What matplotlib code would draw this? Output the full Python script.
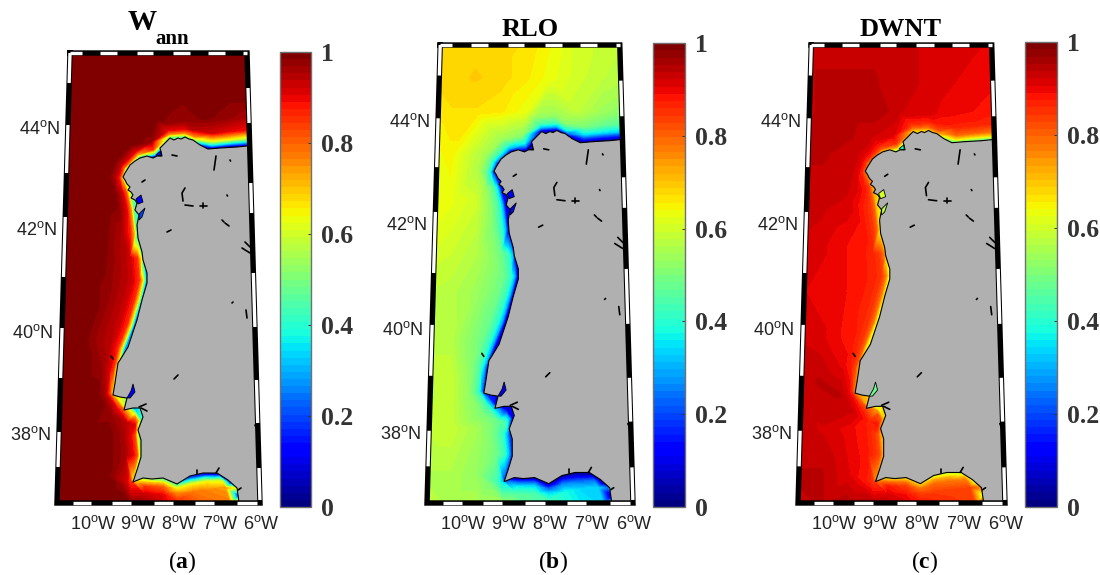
import numpy as np
import matplotlib
matplotlib.use('Agg')
import matplotlib.pyplot as plt
import matplotlib.tri as mtri
from matplotlib.cm import ScalarMappable
from matplotlib.colors import ListedColormap, Normalize
from matplotlib.patches import Polygon

plt.rcParams['font.family'] = 'Liberation Sans'
plt.rcParams['mathtext.fontset'] = 'custom'
plt.rcParams['mathtext.default'] = 'regular'
plt.rcParams['mathtext.bf'] = 'Liberation Serif:bold'

W, H = 1100, 575

# everything on the map is in "map units" (pixels of the first panel)
coast_x = [262, 247, 237, 220, 208, 200, 193, 189, 185, 181, 178, 174, 170, 163, 160, 162, 157, 153, 147, 140, 135, 130, 125, 123, 125, 127,
           130, 128, 131, 133, 131, 135, 137, 135, 139, 137, 138, 142, 143, 147, 147, 142, 137, 128, 120, 118, 115, 113, 120,
           127, 124, 133, 140, 143, 138, 141, 141, 137, 133, 143, 152, 163, 177, 190, 203, 217, 228, 237, 239, 239]
coast_y = [146, 146, 147, 148, 149, 145, 140, 139, 137, 139, 138, 140, 138, 145, 148, 156, 156, 158, 156, 158, 161, 165, 173, 177, 180, 184,
           187, 190, 192, 195, 198, 200, 203, 210, 215, 225, 238, 252, 260, 273, 283, 300, 320, 347, 360, 363, 383, 395, 397,
           398, 410, 408, 408, 417, 430, 440, 457, 470, 482, 478, 479, 478, 484, 476, 473, 473, 480, 488, 502, 506]

# little lakes and rivers that show as black strokes on the land
lakes = [[(216, 156), (214, 170)], [(172, 155), (177, 156)], [(142, 182), (145, 180)],
         [(185, 188), (182, 193), (183, 201)], [(185, 205), (193, 206)], [(200, 206), (207, 206)],
         [(203, 203), (203, 208)], [(230, 160), (230.5, 161)], [(227, 195), (227.5, 196)],
         [(222, 220), (224, 222)], [(225, 223), (229, 226)], [(167, 232), (171, 230)],
         [(245, 242), (250, 247)], [(242, 248), (250, 253)], [(232, 303), (233, 302)],
         [(246, 310), (247, 318)], [(174, 379), (178, 375)], [(111, 356), (113, 359)],
         [(255, 425), (257, 430)], [(197, 474), (197, 470)], [(216, 473), (219, 468)],
         [(238, 490), (241, 488)], [(139, 407), (146, 404)], [(141, 408), (147, 411)]]

# estuaries, filled with a value of their own per panel
estuary_shapes = [[(133, 384), (135, 392), (130, 398), (127, 398), (131, 391)],
                  [(136, 199), (141, 195), (143, 202), (138, 204)],
                  [(139, 214), (145, 208), (142, 217), (139, 220)],
                  [(156, 155), (161, 151), (161, 156)]]
estuary_vals = [[0.12, 0.12, 0.2, 0.15], [0.1, 0.1, 0.1, 0.1], [0.48, 0.6, 0.55, 0.4]]

# stations along the coast, with the direction towards open sea
st_x = [250, 232, 212, 198, 185, 170, 155, 140, 127, 123, 130, 135, 138, 145, 147, 142, 135,
        125, 117, 113, 124, 135, 142, 139, 141, 134, 145, 163, 177, 190, 205, 218, 230, 238]
st_y = [146, 147, 149, 144, 137, 138, 157, 158, 170, 178, 192, 210, 235, 260, 280, 300, 325,
        350, 370, 393, 405, 409, 420, 435, 455, 480, 479, 479, 485, 477, 474, 474, 482, 495]
st_dx = [0.1, 0, 0, -0.37, 0, -0.29, -0.29, -0.6, -0.8, -1, -0.98, -1, -1, -0.99, -1, -0.98, -0.97,
         -0.95, -0.98, -0.98, -0.76, 0, -0.98, -1, -1, -0.96, 0, 0, 0, 0.2, 0.2, 0.45, 0.66, 0.89]
st_dy = [-1, -1, -1, -0.93, -1, -0.96, -0.96, -0.8, -0.6, -0.1, 0.2, 0.1, -0.1, -0.15, 0, -0.2, -0.25,
         -0.32, -0.2, 0.2, 0.65, 1, 0.2, 0, 0, 0.28, 1, 1, 1, 0.98, 0.98, 0.89, 0.75, 0.45]
offsets = [1, 4, 8, 16]

# value at each station for each offset
wann_band = [[.10, .30, .58, .88], [.10, .35, .63, .90], [.10, .35, .63, .92], [.30, .55, .75, .94],
             [.50, .75, .90, .97], [.50, .75, .90, .98], [.15, .55, .85, .98], [.40, .72, .90, .99],
             [.50, .80, .93, 1.0], [.70, .88, .95, 1.0], [.60, .82, .93, 1.0], [.45, .75, .90, .98],
             [.40, .72, .87, .95], [.30, .65, .85, .93], [.30, .65, .85, .93], [.35, .68, .86, .93],
             [.25, .65, .86, .93], [.30, .68, .87, .94], [.65, .85, .92, .97], [.70, .85, .95, 1.0],
             [.60, .80, .90, .97], [.30, .55, .75, .90], [.40, .70, .86, .94], [.55, .82, .90, .96],
             [.55, .82, .90, .96], [.65, .85, .92, .98], [.60, .72, .85, .93], [.50, .68, .80, .90],
             [.50, .65, .75, .85], [.20, .42, .65, .78], [.15, .40, .64, .76], [.14, .38, .62, .74],
             [.12, .35, .60, .74], [.12, .35, .58, .72]]
rlo_band = [[.05, .16, .32, .46], [.05, .18, .34, .48], [.05, .18, .34, .50], [.08, .22, .38, .52],
            [.12, .30, .44, .54], [.12, .30, .44, .54], [.08, .24, .38, .52], [.12, .30, .42, .54],
            [.15, .33, .45, .55], [.20, .37, .48, .56], [.15, .34, .46, .54], [.12, .32, .44, .52],
            [.12, .32, .42, .50], [.12, .32, .42, .49], [.12, .32, .42, .49], [.12, .32, .42, .49],
            [.10, .30, .40, .48], [.10, .30, .41, .49], [.15, .33, .44, .51], [.20, .36, .46, .53],
            [.15, .32, .43, .50], [.06, .17, .31, .43], [.12, .30, .40, .48], [.20, .33, .42, .49],
            [.20, .33, .42, .49], [.20, .34, .43, .50], [.10, .24, .36, .46], [.10, .24, .35, .45],
            [.08, .22, .33, .43], [.05, .17, .27, .38], [.04, .14, .24, .34], [.04, .14, .24, .34],
            [.03, .13, .23, .33], [.03, .12, .22, .32]]
dwnt_band = [[.48, .66, .78, .86], [.50, .68, .80, .87], [.50, .68, .80, .87], [.58, .72, .82, .88],
             [.70, .80, .86, .91], [.70, .80, .86, .91], [.55, .75, .86, .91], [.70, .82, .88, .92],
             [.75, .85, .90, .93], [.80, .87, .91, .93], [.75, .84, .88, .91], [.68, .80, .85, .88],
             [.65, .80, .85, .88], [.63, .78, .84, .87], [.63, .77, .84, .87], [.65, .78, .84, .87],
             [.63, .78, .84, .87], [.65, .80, .85, .88], [.72, .83, .87, .90], [.78, .87, .91, .94],
             [.72, .83, .88, .92], [.62, .74, .83, .88], [.68, .80, .84, .87], [.72, .82, .85, .88],
             [.72, .82, .85, .88], [.75, .84, .87, .90], [.70, .80, .88, .91], [.70, .78, .84, .89],
             [.70, .78, .83, .87], [.65, .74, .80, .84], [.62, .72, .78, .83], [.62, .72, .78, .83],
             [.60, .70, .76, .82], [.58, .68, .75, .80]]

# open sea, coarse grid; nan is land
grid_x = [55, 80, 105, 130, 155, 180, 205, 230, 262]
grid_y = [50, 85, 118, 160, 205, 250, 295, 340, 385, 430, 475, 505]
L = np.nan
wann_grid = [[1, 1, 1, 1, 1, 1, 1, 1, 1],
             [1, 1, 1, 1, 1, 1, 1, 1, 1],
             [1, 1, 1, 1, 1, 1, .99, .97, .93],
             [1, 1, 1, 1, L, L, L, L, L],
             [1, 1, 1, L, L, L, L, L, L],
             [1, 1, .99, .97, L, L, L, L, L],
             [1, 1, .98, L, L, L, L, L, L],
             [1, 1, .97, L, L, L, L, L, L],
             [1, 1, 1, L, L, L, L, L, L],
             [1, 1, 1, L, L, L, L, L, L],
             [1, 1, 1, L, L, L, L, L, L],
             [1, 1, 1, .99, .95, .90, .80, .78, L]]
rlo_grid = [[.66, .68, .68, .68, .67, .64, .60, .59, .58],
            [.67, .68, .69, .68, .66, .63, .60, .58, .56],
            [.67, .67, .67, .66, .63, .61, .58, .54, .50],
            [.62, .65, .65, .62, L, L, L, L, L],
            [.62, .63, .60, .55, L, L, L, L, L],
            [.62, .60, .57, .50, L, L, L, L, L],
            [.58, .57, .54, L, L, L, L, L, L],
            [.57, .57, .53, L, L, L, L, L, L],
            [.57, .59, .56, L, L, L, L, L, L],
            [.58, .59, .55, L, L, L, L, L, L],
            [.56, .56, .53, L, L, L, L, L, L],
            [.57, .56, .56, .55, .46, .40, .37, .34, L]]
dwnt_grid = [[.93, .93, .93, .93, .92, .92, .91, .91, .90],
             [.93, .94, .94, .94, .93, .92, .91, .90, .89],
             [.93, .94, .95, .95, .93, .91, .90, .89, .88],
             [.94, .94, .94, .93, L, L, L, L, L],
             [.93, .93, .92, .90, L, L, L, L, L],
             [.92, .91, .89, .88, L, L, L, L, L],
             [.91, .90, .89, L, L, L, L, L, L],
             [.92, .91, .90, L, L, L, L, L, L],
             [.93, .94, .93, L, L, L, L, L, L],
             [.93, .92, .90, L, L, L, L, L, L],
             [.94, .94, .91, L, L, L, L, L, L],
             [.93, .94, .95, .95, .93, .88, .86, .84, L]]

band_tables = [wann_band, rlo_band, dwnt_band]
grid_tables = [wann_grid, rlo_grid, dwnt_grid]

# panel rectangles in pixels: left, right, top, bottom
map_boxes = [(55, 262, 52, 503), (425, 635, 44, 503), (796, 1007, 44, 503)]
cbar_boxes = [(280, 311, 52, 507), (653, 685, 43, 507), (1025, 1057, 42, 507)]
panel_tags = ['a', 'b', 'c']
tag_x = [182, 553, 925]

lat_labels = ['44', '42', '40', '38']
lat_y = [129, 230, 333, 435]
lat_right = [60, 57, 53, 51]
lon_labels = ['10', '9', '8', '7', '6']
lon_x = [93, 138, 179, 220, 261]
cb_ticks = [0, 0.2, 0.4, 0.6, 0.8, 1]
cb_labels = ['0', '0.2', '0.4', '0.6', '0.8', '1']

# frame corners and the white dashes on each side
TL, TR, BR, BL = (70, 53), (247, 53), (260, 503), (57, 503)
dash_top = [(70, 82), (100, 117), (137, 153), (173, 190), (208, 225), (243, 247)]
dash_bottom = [(73, 91), (112, 131), (154, 173), (195, 214), (237, 257)]
dash_left = [(53, 83), (125, 173), (217, 277), (328, 378), (432, 467)]
dash_right = [(88, 123), (183, 213), (273, 327), (380, 423), (468, 500)]

jet64 = ListedColormap(plt.get_cmap('jet')(np.linspace(0, 1, 64)))
levels = np.linspace(0, 1.0001, 65)
LAND = '#b0b0b0'


def px_axes(fig, box):
    l, r, t, b = box
    return fig.add_axes([l / W, 1 - b / H, (r - l) / W, (b - t) / H])


def side_x(p, q, y):
    return p[0] + (y - p[1]) / (q[1] - p[1]) * (q[0] - p[0])


def sea_points(band, grid):
    px, py, pv = [], [], []
    for i in range(len(st_x)):
        for j, d in enumerate(offsets):
            px.append(st_x[i] + d * st_dx[i])
            py.append(st_y[i] + d * st_dy[i])
            pv.append(band[i][j])
    bx, by = np.array(px), np.array(py)
    for r, gy in enumerate(grid_y):
        for c, gx in enumerate(grid_x):
            v = grid[r][c]
            if np.isnan(v):
                continue
            if np.min(np.hypot(bx - gx, by - gy)) < 10:
                continue
            px.append(gx)
            py.append(gy)
            pv.append(v)
    return np.array(px), np.array(py), np.array(pv)


def draw_frame(ax):
    corners = [TL, TR, BR, BL, TL]
    ax.plot([c[0] for c in corners], [c[1] for c in corners], color='k', lw=3.9,
            solid_joinstyle='miter', clip_on=False, zorder=6)
    white = dict(color='w', lw=2.4, solid_capstyle='butt', clip_on=False, zorder=7)
    for a, b in dash_top:
        ax.plot([a, b], [TL[1], TL[1]], **white)
    for a, b in dash_bottom:
        ax.plot([a, b], [BL[1], BL[1]], **white)
    for a, b in dash_left:
        ax.plot([side_x(TL, BL, a), side_x(TL, BL, b)], [a, b], **white)
    for a, b in dash_right:
        ax.plot([side_x(TR, BR, a), side_x(TR, BR, b)], [a, b], **white)


def draw_panel(fig, k):
    norm = Normalize(0, 1)
    ax = px_axes(fig, map_boxes[k])
    ax.set_xlim(55, 262)
    ax.set_ylim(503, 52)
    ax.axis('off')

    trap = Polygon([TL, TR, BR, BL], closed=True, transform=ax.transData, fc='none', ec='none')
    ax.add_patch(trap)

    px, py, pv = sea_points(band_tables[k], grid_tables[k])
    tri = mtri.Triangulation(px, py)
    cs = ax.tricontourf(tri, pv, levels=levels, cmap=jet64, norm=norm, zorder=1)
    cs.set_clip_path(trap)

    land = list(zip(coast_x, coast_y)) + [(270, 506), (270, 146)]
    land_patch = Polygon(land, closed=True, fc=LAND, ec='none', zorder=2)
    ax.add_patch(land_patch)
    land_patch.set_clip_path(trap)

    for shape, v in zip(estuary_shapes, estuary_vals[k]):
        ax.add_patch(Polygon(shape, closed=True, fc=jet64(norm(v)), ec='k', lw=0.6, zorder=3))

    line, = ax.plot(coast_x, coast_y, color='k', lw=0.8, zorder=4)
    line.set_clip_path(trap)
    for lake in lakes:
        ax.plot([p[0] for p in lake], [p[1] for p in lake], color='k', lw=1.2,
                solid_capstyle='round', zorder=4)

    draw_frame(ax)

    for s, y, x in zip(lat_labels, lat_y, lat_right):
        ax.text(x, y, s + '$^{o}$N', ha='right', va='center', fontsize=13, color='#222222')
    for s, x in zip(lon_labels, lon_x):
        ax.text(x, 524, s + '$^{o}$W', ha='center', va='center', fontsize=13, color='#222222')

    cax = px_axes(fig, cbar_boxes[k])
    cb = fig.colorbar(ScalarMappable(norm=Normalize(0, 1), cmap=jet64), cax=cax)
    cb.set_ticks(cb_ticks, labels=cb_labels)
    cb.ax.tick_params(direction='in', length=2, width=0.7, color='#333333', pad=7)
    cb.outline.set_edgecolor('#707070')
    cb.outline.set_linewidth(1.0)
    for t in cb.ax.get_yticklabels():
        t.set_family('Liberation Serif')
        t.set_weight('bold')
        t.set_fontsize(18.5)
        t.set_color('#333333')

    fig.text(tag_x[k] / W, 1 - 562 / H, '($\\mathbf{' + panel_tags[k] + '}$)', ha='center', va='center',
             family='Liberation Serif', fontsize=17)


fig = plt.figure(figsize=(W / 100, H / 100), dpi=100)
for k in range(3):
    draw_panel(fig, k)

serif = dict(family='Liberation Serif', weight='bold', ha='center', va='center', color='k')
fig.text(142 / W, 1 - 23 / H, 'W', fontsize=21, **serif)
fig.text(172 / W, 1 - 39 / H, 'ann', fontsize=15, **serif)
fig.text(530 / W, 1 - 29 / H, 'RLO', fontsize=19, **serif)
fig.text(901 / W, 1 - 29 / H, 'DWNT', fontsize=19, **serif)

fig.savefig('out.png', dpi=100)
